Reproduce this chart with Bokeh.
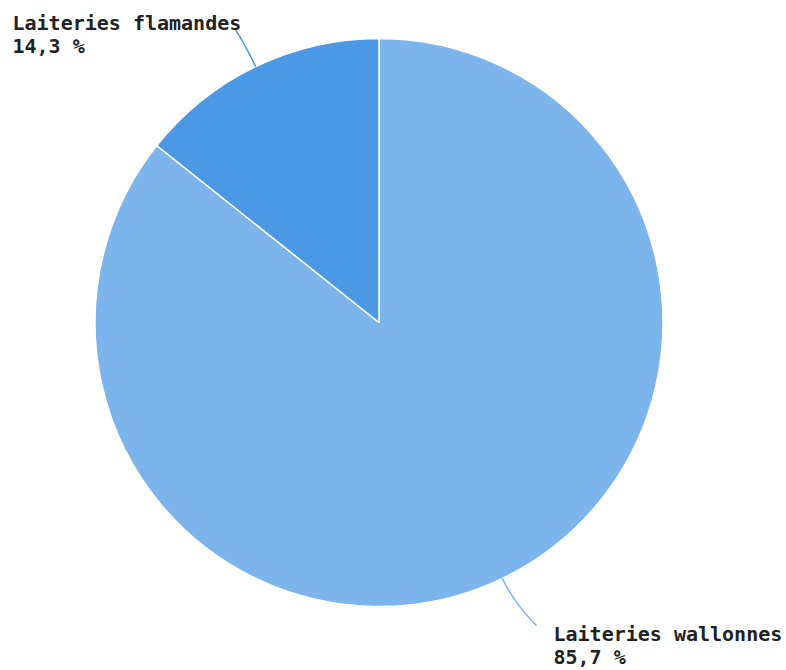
import numpy as np
from bokeh.plotting import figure
from bokeh.models import Range1d, ColumnDataSource
from bokeh.core.properties import value
from bokeh.embed import file_html
from bokeh.resources import INLINE

labels = ["Laiteries wallonnes", "Laiteries flamandes"]
shares = [85.7, 14.3]
colors = ["#7cb4ec", "#4b98e4"]

W, H = 786, 670
p = figure(width=W, height=H, output_backend="svg", toolbar_location=None,
           x_range=Range1d(0, W), y_range=Range1d(-H, 0),
           min_border=0)
p.axis.visible = False
p.grid.visible = False
p.outline_line_color = None
p.background_fill_color = "white"

cx, cy, r = 378.5, -322.0, 284
vals = np.array(shares, dtype=float)
frac = vals / vals.sum()
cum = np.concatenate([[0], np.cumsum(frac)])
start = np.pi / 2 - 2 * np.pi * cum[:-1]
end = np.pi / 2 - 2 * np.pi * cum[1:]
src = ColumnDataSource(dict(x=[cx] * len(vals), y=[cy] * len(vals),
                            start=start, end=end, color=colors))
p.wedge(x="x", y="y", radius=r, radius_units="screen", start_angle="start",
        end_angle="end", direction="clock", fill_color="color",
        line_color="white", line_width=1.5, source=src)

# label anchors (layout) and connector ends
label_pos = {"Laiteries flamandes": (12, -22), "Laiteries wallonnes": (553, -633)}
conn_end = {"Laiteries flamandes": (234, -28), "Laiteries wallonnes": (536, -625)}

font = value("DejaVu Sans Mono")
for i, lab in enumerate(labels):
    mid = (start[i] + end[i]) / 2
    p0 = np.array([cx + r * np.cos(mid), cy + r * np.sin(mid)])
    p1 = np.array([cx + (r + 28) * np.cos(mid), cy + (r + 28) * np.sin(mid)])
    p2 = np.array(conn_end[lab])
    t = np.linspace(0, 1, 40)[:, None]
    curve = (1 - t) ** 2 * p0 + 2 * (1 - t) * t * p1 + t ** 2 * p2
    p.line(curve[:, 0], curve[:, 1], line_color=colors[i], line_width=1.5)
    lx, ly = label_pos[lab]
    pct = f"{shares[i]:.1f}".replace(".", ",") + " %"
    p.text(x=[lx, lx], y=[ly, ly - 23], text=[lab, pct], text_font=font,
           text_font_style="bold", text_font_size="20px", text_color="#222222",
           text_baseline="alphabetic", text_align="left")

open("out.html", "w").write(file_html(p, INLINE))
